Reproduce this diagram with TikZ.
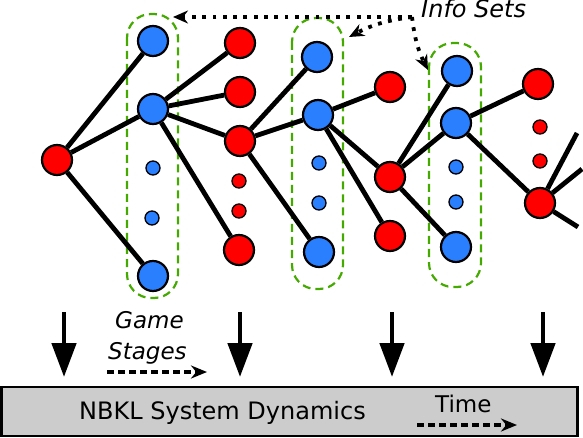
\documentclass[tikz,border=0pt]{standalone}
\usepackage{fontspec}
\setmainfont{DejaVu Sans}
\usetikzlibrary{arrows.meta}
\definecolor{nodeblue}{HTML}{2A7FFF}
\definecolor{nodered}{HTML}{FF0000}
\definecolor{setgreen}{HTML}{44AA00}
\definecolor{boxgray}{HTML}{CCCCCC}
\tikzset{
  bluenode/.style ={circle,draw,line width=2.2pt,fill=nodeblue,minimum size=30pt,inner sep=0pt},
  rednode/.style  ={circle,draw,line width=2.2pt,fill=nodered,minimum size=30pt,inner sep=0pt},
  smallblue/.style={circle,draw,line width=1.3pt,fill=nodeblue,minimum size=14pt,inner sep=0pt},
  smallred/.style ={circle,draw,line width=1.3pt,fill=nodered,minimum size=14pt,inner sep=0pt},
  treeedge/.style ={line width=4.8pt},
  infoset/.style  ={draw=setgreen,line width=2.2pt,dash pattern=on 8pt off 5pt,rounded corners=24pt},
  infoarrow/.style={line width=3.8pt,dash pattern=on 3.8pt off 6.5pt,-{Stealth[length=15pt,width=13pt]}},
  stagearrow/.style={line width=4.8pt,-{Triangle[width=24pt,length=34pt]}},
  flowarrow/.style={line width=3.6pt,dash pattern=on 7pt off 4pt,-{Stealth[length=16pt,width=13pt]}},
  label/.style    ={font=\fontsize{23}{27}\selectfont,inner sep=0pt,anchor=base west}
}
\begin{document}
\begin{tikzpicture}[x=1pt,y=-1pt]
  \useasboundingbox (0,0) rectangle (583,438);

  % information sets
  \draw[infoset] (127,14) rectangle (178,298);
  \draw[infoset] (292,18) rectangle (343,289);
  \draw[infoset] (429,43) rectangle (481,287);

  % game tree
  \node[rednode]   (r0)   at (57,160)  {};
  \node[bluenode]  (b1a)  at (153,41)  {};
  \node[bluenode]  (b1b)  at (153,109) {};
  \node[smallblue] (b1s1) at (153,168) {};
  \node[smallblue] (b1s2) at (152,218) {};
  \node[bluenode]  (b1c)  at (153,276) {};
  \node[rednode]   (r1a)  at (240,43)  {};
  \node[rednode]   (r1b)  at (240,92)  {};
  \node[rednode]   (r1c)  at (240,141) {};
  \node[smallred]  (r1s1) at (239,181) {};
  \node[smallred]  (r1s2) at (239,211) {};
  \node[rednode]   (r1d)  at (239,250) {};
  \node[bluenode]  (b2a)  at (317,57)  {};
  \node[bluenode]  (b2b)  at (318,115) {};
  \node[smallblue] (b2s1) at (319,163) {};
  \node[smallblue] (b2s2) at (319,203) {};
  \node[bluenode]  (b2c)  at (319,252) {};
  \node[rednode]   (r2a)  at (390,87)  {};
  \node[rednode]   (r2b)  at (390,177) {};
  \node[rednode]   (r2c)  at (390,236) {};
  \node[bluenode]  (b3a)  at (457,71)  {};
  \node[bluenode]  (b3b)  at (456,123) {};
  \node[smallblue] (b3s1) at (456,167) {};
  \node[smallblue] (b3s2) at (456,202) {};
  \node[bluenode]  (b3c)  at (456,247) {};
  \node[rednode]   (r3a)  at (538,84)  {};
  \node[smallred]  (r3s1) at (540,127) {};
  \node[smallred]  (r3s2) at (540,161) {};
  \node[rednode]   (r3b)  at (540,203) {};
  \coordinate (outa) at (577,133);
  \coordinate (outb) at (582,169);
  \coordinate (outc) at (578,227);

  \draw[treeedge] (r0)  -- (b1a)  (r0)  -- (b1b)  (r0)  -- (b1c);
  \draw[treeedge] (b1b) -- (r1a)  (b1b) -- (r1b)  (b1b) -- (r1c)  (b1b) -- (r1d);
  \draw[treeedge] (r1c) -- (b2a)  (r1c) -- (b2b)  (r1c) -- (b2c);
  \draw[treeedge] (b2b) -- (r2a)  (b2b) -- (r2b)  (b2b) -- (r2c);
  \draw[treeedge] (r2b) -- (b3a)  (r2b) -- (b3b)  (r2b) -- (b3c);
  \draw[treeedge] (b3b) -- (r3a)  (b3b) -- (r3b);
  \draw[treeedge] (r3b) -- (outa) (r3b) -- (outb) (r3b) -- (outc);

  % info set labels
  \node[label,font=\fontsize{24}{28}\selectfont] (info) at (421,18) {\itshape Info Sets};
  \coordinate (infostart) at (412,17);
  \coordinate (set1) at (173,17);
  \coordinate (set2) at (349,37);
  \coordinate (set3) at (428,70);
  \draw[infoarrow] (infostart) -- (set1);
  \draw[infoarrow] (infostart) to[bend right=10] (set2);
  \draw[infoarrow] (infostart) to[bend right=10] (set3);

  % system dynamics
  \node[draw,line width=2.2pt,fill=boxgray,minimum width=576pt,minimum height=49pt,inner sep=0pt]
        (sys) at (289.5,411.5) {};
  \node[label,font=\fontsize{24}{28}\selectfont] (sysname) at (79,419) {NBKL System Dynamics};
  \foreach \x [count=\i] in {64,240,392,543}{
    \coordinate (top\i) at (\x,312);
    \coordinate (tip\i) at (\x,377);
    \draw[stagearrow] (top\i) -- (tip\i);
  }

  \node[label] (game)   at (115,328) {\itshape Game};
  \node[label] (stages) at (108,359) {\itshape Stages};
  \coordinate (gsa) at (107,372);
  \coordinate (gsb) at (207,372);
  \draw[flowarrow] (gsa) -- (gsb);

  \node[label] (time) at (435,412) {Time};
  \coordinate (tma) at (417,425);
  \coordinate (tmb) at (517,425);
  \draw[flowarrow] (tma) -- (tmb);
\end{tikzpicture}
\end{document}
